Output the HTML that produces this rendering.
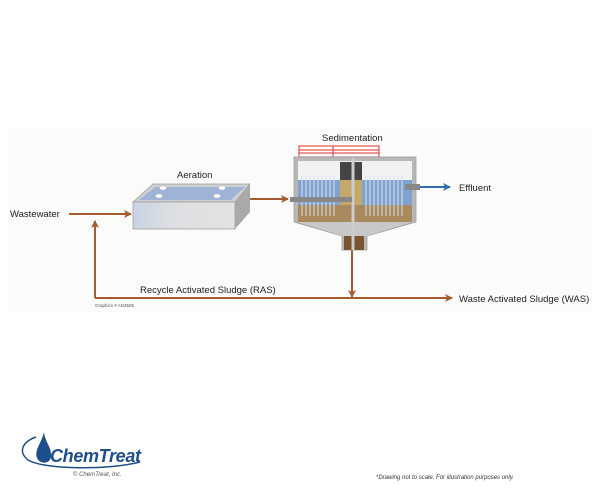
<!DOCTYPE html>
<html><head><meta charset="utf-8"><style>
body{margin:0;background:#fff;}
svg{display:block;font-family:"Liberation Sans",sans-serif;}
</style></head><body>
<svg width="600" height="500" viewBox="0 0 600 500" xmlns="http://www.w3.org/2000/svg">
<defs>
<marker id="ab" markerWidth="8" markerHeight="8" refX="7" refY="4" orient="auto" markerUnits="userSpaceOnUse"><path d="M0,0 L8,4 L0,8 L2,4 Z" fill="#a65a2e"/></marker>
<marker id="ablue" markerWidth="8" markerHeight="8" refX="7" refY="4" orient="auto" markerUnits="userSpaceOnUse"><path d="M0,0 L8,4 L0,8 L2,4 Z" fill="#2f6db0"/></marker>
<linearGradient id="fr" x1="0" y1="0" x2="1" y2="0"><stop offset="0" stop-color="#c9d3e3"/><stop offset="0.4" stop-color="#dedfe2"/><stop offset="1" stop-color="#e2e2e2"/></linearGradient>
</defs>
<rect x="8" y="128" width="584" height="184" fill="#fbfbfa"/>
<g stroke="#a65a2e" stroke-width="2" fill="none">
<line x1="69" y1="214" x2="131" y2="214" marker-end="url(#ab)"/>
<polyline points="95,298 95,221" marker-end="url(#ab)"/>
<line x1="95" y1="298" x2="452" y2="298" marker-end="url(#ab)"/>
<line x1="352" y1="250" x2="352" y2="297" marker-end="url(#ab)"/>
<line x1="237" y1="199" x2="288" y2="199" marker-end="url(#ab)"/>
</g>
<line x1="420" y1="187" x2="450" y2="187" stroke="#2f6db0" stroke-width="2" marker-end="url(#ablue)"/>
<polygon points="133,202 153,184 250,184 235,202" fill="#d0d0d0" stroke="#999" stroke-width="0.7"/>
<polygon points="139,200 155,187 245,187 231,200" fill="#9fb3d6"/>
<polygon points="133,202 235,202 235,229 133,229" fill="url(#fr)" stroke="#999" stroke-width="0.7"/>
<polygon points="235,202 250,184 250,212 235,229" fill="#a9a9a9"/>
<g fill="#fff" stroke="#bbb" stroke-width="0.5"><ellipse cx="163" cy="188" rx="3.5" ry="2"/><ellipse cx="159" cy="196" rx="3.5" ry="2"/><ellipse cx="222" cy="188" rx="3.5" ry="2"/><ellipse cx="217" cy="196" rx="3.5" ry="2"/></g>
<g stroke="#d33" stroke-width="1" fill="none"><rect x="299" y="146" width="80" height="11"/><line x1="299" y1="150" x2="379" y2="150"/><line x1="299" y1="153" x2="379" y2="153"/><line x1="333" y1="146" x2="333" y2="157"/></g>
<polygon points="294,157 416,157 416,222 367,236 367,250 342,250 342,236 294,222" fill="#b8b8b8" stroke="#999" stroke-width="0.7"/>
<rect x="298" y="161" width="114" height="19" fill="#f2f2f2"/>
<rect x="298" y="180" width="114" height="25" fill="#7fa2cf"/>
<rect x="298" y="205" width="114" height="17" fill="#a88a5e"/>
<rect x="340" y="180" width="22" height="25" fill="#c4a86a"/>
<g stroke="#d9e3ee" stroke-width="1">
<line x1="302" y1="176" x2="302" y2="216"/><line x1="306" y1="176" x2="306" y2="216"/><line x1="310" y1="176" x2="310" y2="216"/><line x1="314" y1="176" x2="314" y2="216"/><line x1="318" y1="176" x2="318" y2="216"/><line x1="322" y1="176" x2="322" y2="216"/><line x1="326" y1="176" x2="326" y2="216"/><line x1="330" y1="176" x2="330" y2="216"/><line x1="334" y1="176" x2="334" y2="216"/>
<line x1="366" y1="176" x2="366" y2="216"/><line x1="370" y1="176" x2="370" y2="216"/><line x1="374" y1="176" x2="374" y2="216"/><line x1="378" y1="176" x2="378" y2="216"/><line x1="382" y1="176" x2="382" y2="216"/><line x1="386" y1="176" x2="386" y2="216"/><line x1="390" y1="176" x2="390" y2="216"/><line x1="394" y1="176" x2="394" y2="216"/><line x1="398" y1="176" x2="398" y2="216"/><line x1="402" y1="176" x2="402" y2="216"/>
</g>
<rect x="340" y="162" width="22" height="18" fill="#444"/>
<polygon points="298,222 412,222 367,236 342,236" fill="#c8c8c8"/>
<rect x="344" y="236" width="20" height="14" fill="#7a5530"/>
<line x1="353" y1="158" x2="353" y2="250" stroke="#ccc" stroke-width="3"/>
<rect x="290" y="197" width="62" height="5" fill="#888"/>
<rect x="405" y="184" width="15" height="6" fill="#888"/>
<g fill="#222" font-size="9.5">
<text x="10" y="217">Wastewater</text>
<text x="177" y="178">Aeration</text>
<text x="322" y="141">Sedimentation</text>
<text x="459" y="191">Effluent</text>
<text x="140" y="293">Recycle Activated Sludge (RAS)</text>
<text x="459" y="302">Waste Activated Sludge (WAS)</text>
</g>
<text x="95" y="307" font-size="4.5" fill="#555">Graphics # AN3505</text>
<path d="M36,437 C22,442 18,452 28,460 C45,470 110,470 140,462" fill="none" stroke="#1f4e8c" stroke-width="1.5"/>
<path d="M44,432 C42,442 34,450 37,458 C40,465 51,464 51,456 C52,448 45,442 44,432 Z" fill="#1f4e8c"/>
<text x="50" y="462" font-size="18" font-weight="bold" font-style="italic" fill="#1f4e8c" textLength="91">ChemTreat</text>
<text x="73" y="476" font-size="6" font-style="italic" fill="#555">© ChemTreat, Inc.</text>
<text x="376" y="479" font-size="6" font-style="italic" fill="#333">*Drawing not to scale. For illustration purposes only.</text>
</svg>
</body></html>
